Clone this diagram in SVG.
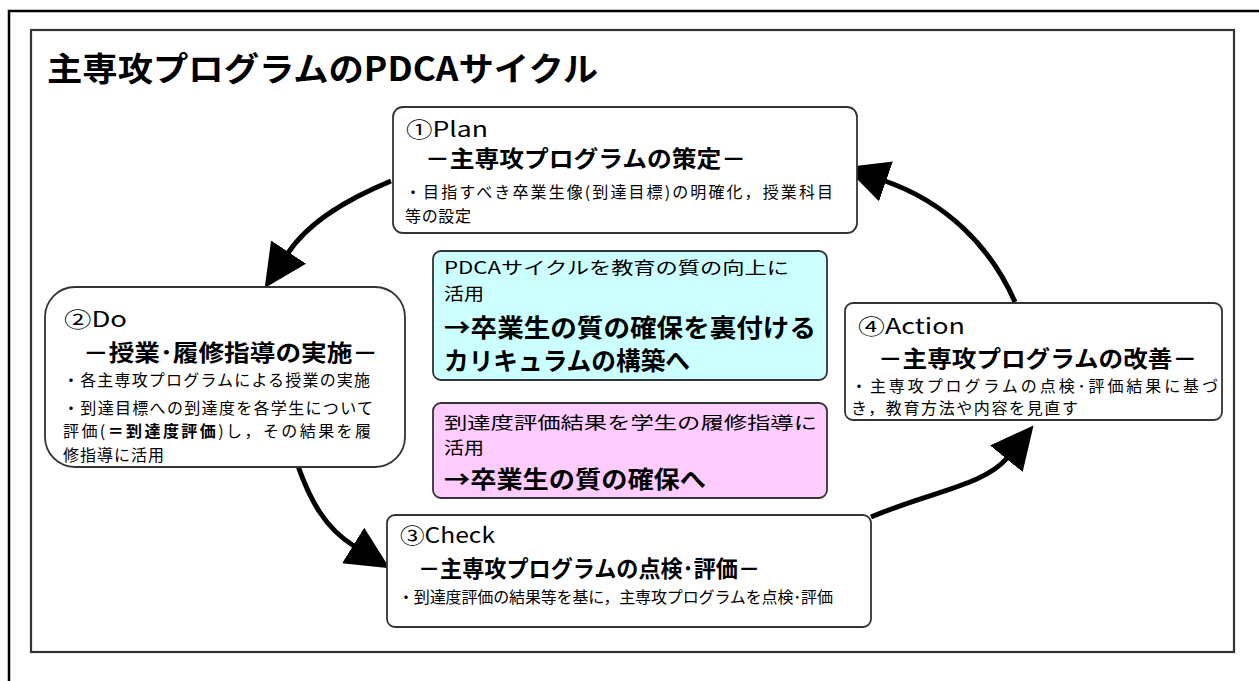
<svg xmlns="http://www.w3.org/2000/svg" width="1259" height="681" viewBox="0 0 1259 681">
<style>
text{font-family:"Noto Sans CJK JP","Noto Sans",sans-serif;fill:#000}
.box{fill:#fff;stroke:#333;stroke-width:1.8}
.cyan{fill:#ccffff;stroke:#333;stroke-width:1.8}
.pink{fill:#ffccff;stroke:#333;stroke-width:1.8}
.lbl{font-size:21px}
.head{font-size:23px;font-weight:bold}
.body{font-size:16px}
.mid{font-size:17.5px}
.big{font-size:25px;font-weight:bold}
.big2{font-size:24px;font-weight:bold}
.arr{fill:none;stroke:#000;stroke-width:5}
</style>
<defs>
<marker id="ah" viewBox="0 -22 44 44" markerWidth="44" markerHeight="44" refX="1" refY="0" markerUnits="userSpaceOnUse" orient="auto">
<path d="M0,-21 L43,0 L0,21 z" fill="#000"/>
</marker>
</defs>
<rect width="1259" height="681" fill="#fff"/>
<g id="outer-frame">
<path d="M9,681 V11 H1259" fill="none" stroke="#000" stroke-width="2.5"/>
<rect x="31" y="30" width="1203" height="622" fill="none" stroke="#333" stroke-width="2.2"/>
</g>
<g id="title">
<text x="47" y="81" font-size="33" font-weight="bold" textLength="551" lengthAdjust="spacingAndGlyphs">主専攻プログラムのPDCAサイクル</text>
</g>
<g id="connectors">
<path class="arr" d="M391,181 C350,198 310,220 288,253" marker-end="url(#ah)"/>
<path class="arr" d="M298,466 C310,500 325,528 354,546" marker-end="url(#ah)"/>
<path class="arr" d="M871,517 C930,492 985,485 1007,458" marker-end="url(#ah)"/>
<path class="arr" d="M1015,302 C990,245 945,202 885,181" marker-end="url(#ah)"/>
</g>
<g id="plan">
<rect class="box" x="393" y="107" width="464" height="126" rx="10"/>
<text class="lbl" x="406" y="137" textLength="82" lengthAdjust="spacingAndGlyphs">①Plan</text>
<text class="head" x="425" y="167" textLength="321" lengthAdjust="spacingAndGlyphs">－主専攻プログラムの策定－</text>
<text class="body" x="405" y="198" textLength="428">・目指すべき卒業生像(到達目標)の明確化，授業科目</text>
<text class="body" x="405" y="222" textLength="66">等の設定</text>
</g>
<g id="do">
<rect class="box" x="45" y="287" width="360" height="180" rx="30"/>
<text class="lbl" x="64" y="327" textLength="63" lengthAdjust="spacingAndGlyphs">②Do</text>
<text class="head" x="83" y="361" textLength="295" lengthAdjust="spacingAndGlyphs">－授業･履修指導の実施－</text>
<text class="body" x="63" y="386" textLength="307">・各主専攻プログラムによる授業の実施</text>
<text class="body" x="63" y="414" textLength="310">・到達目標への到達度を各学生について</text>
<text class="body" x="63" y="437" textLength="308">評価(<tspan font-weight="bold">＝到達度評価</tspan>)し，その結果を履</text>
<text class="body" x="63" y="461" textLength="101">修指導に活用</text>
</g>
<g id="center-cyan">
<rect class="cyan" x="433" y="251" width="394" height="129" rx="8"/>
<text class="mid" x="444" y="274" textLength="345" lengthAdjust="spacingAndGlyphs">PDCAサイクルを教育の質の向上に</text>
<text class="mid" x="444" y="300" textLength="40" lengthAdjust="spacingAndGlyphs">活用</text>
<text class="big" x="444" y="337" textLength="372" lengthAdjust="spacingAndGlyphs">→卒業生の質の確保を裏付ける</text>
<text class="big" x="444" y="370" textLength="246" lengthAdjust="spacingAndGlyphs">カリキュラムの構築へ</text>
</g>
<g id="center-pink">
<rect class="pink" x="433" y="403" width="394" height="95" rx="8"/>
<text class="mid" x="444" y="429" textLength="373" lengthAdjust="spacingAndGlyphs">到達度評価結果を学生の履修指導に</text>
<text class="mid" x="444" y="454" textLength="40" lengthAdjust="spacingAndGlyphs">活用</text>
<text class="big2" x="444" y="488" textLength="262" lengthAdjust="spacingAndGlyphs">→卒業生の質の確保へ</text>
</g>
<g id="action">
<rect class="box" x="845" y="303" width="377" height="117" rx="8"/>
<text class="lbl" x="858" y="334" textLength="107" lengthAdjust="spacingAndGlyphs">④Action</text>
<text class="head" x="878" y="367" textLength="319" lengthAdjust="spacingAndGlyphs">－主専攻プログラムの改善－</text>
<text class="body" x="851" y="392" textLength="367">・主専攻プログラムの点検･評価結果に基づ</text>
<text class="body" x="851" y="414" textLength="227">き，教育方法や内容を見直す</text>
</g>
<g id="check">
<rect class="box" x="387" y="515" width="484" height="112" rx="8"/>
<text class="lbl" x="400" y="543" textLength="95" lengthAdjust="spacingAndGlyphs">③Check</text>
<text class="head" x="418" y="577" textLength="342" lengthAdjust="spacingAndGlyphs">－主専攻プログラムの点検･評価－</text>
<text class="body" x="398" y="603" textLength="435">・到達度評価の結果等を基に，主専攻プログラムを点検･評価</text>
</g>
</svg>
